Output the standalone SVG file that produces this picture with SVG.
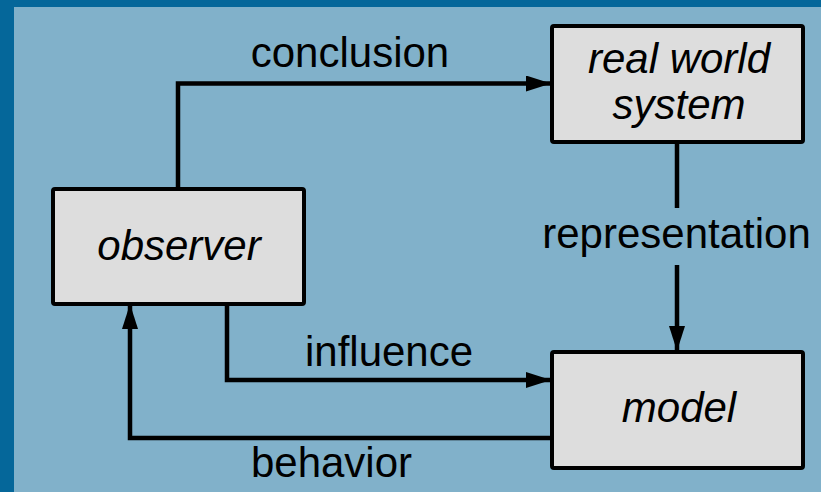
<svg xmlns="http://www.w3.org/2000/svg" width="821" height="492" viewBox="0 0 821 492">
  <style>
    .box { fill: #dddddd; stroke: #000000; stroke-width: 4; }
    .node-label { font-family: "Liberation Sans", Arial, sans-serif; font-style: italic; font-size: 42px; fill: #000000; text-anchor: middle; }
    .edge-label { font-family: "Liberation Sans", Arial, sans-serif; font-size: 42px; fill: #000000; text-anchor: middle; }
    .wire { fill: none; stroke: #000000; stroke-width: 4.5; stroke-linejoin: miter; }
  </style>
  <defs>
    <marker id="arrow" viewBox="0 0 25 16" refX="25" refY="8" markerWidth="25" markerHeight="16" markerUnits="userSpaceOnUse" orient="auto">
      <path d="M0,0 L25,8 L0,16 Z" fill="#000000"/>
    </marker>
  </defs>

  <!-- frame -->
  <rect x="0" y="0" width="821" height="492" fill="#05679a"/>
  <rect x="14" y="7" width="807" height="485" fill="#81b1ca"/>

  <!-- connectors -->
  <g id="connectors">
    <path id="conclusion" class="wire" d="M178,188 V83.5 H551" marker-end="url(#arrow)"/>
    <path id="representation-top" class="wire" d="M677,142 V208"/>
    <path id="representation" class="wire" d="M677,265 V351" marker-end="url(#arrow)"/>
    <path id="influence" class="wire" d="M227,304 V380 H551" marker-end="url(#arrow)"/>
    <path id="behavior" class="wire" d="M551,438 H130 V304" marker-end="url(#arrow)"/>
    <text class="edge-label" x="350" y="67">conclusion</text>
    <text class="edge-label" x="676.5" y="248">representation</text>
    <text class="edge-label" x="389" y="366">influence</text>
    <text class="edge-label" x="331.5" y="477">behavior</text>
  </g>

  <!-- nodes -->
  <g id="real-world-system">
    <rect class="box" x="552" y="26" width="251" height="116" rx="2"/>
    <text class="node-label" x="679" y="73">real world</text>
    <text class="node-label" x="679" y="119">system</text>
  </g>
  <g id="observer">
    <rect class="box" x="53" y="189" width="251" height="115" rx="2"/>
    <text class="node-label" x="179" y="260">observer</text>
  </g>
  <g id="model">
    <rect class="box" x="552" y="352" width="251" height="116" rx="2"/>
    <text class="node-label" x="679" y="422">model</text>
  </g>
</svg>
